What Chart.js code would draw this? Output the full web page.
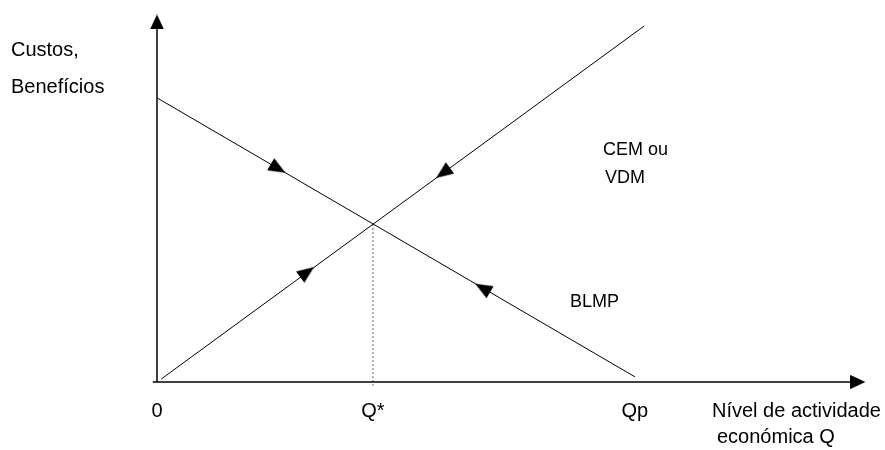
<!DOCTYPE html>
<html>
<head>
    <title>Q*</title>
    <script src="https://cdn.jsdelivr.net/npm/chart.js"></script>
    <style>
        body { margin: 0; background: #fff; }
        #wrap { width: 885px; height: 450px; }
    </style>
</head>
<body>
    <div id="wrap"><canvas id="myChart"></canvas></div>

    <script>
        // valores (escala 0..100 nos dois eixos)
        var tickValues = [0, 30.5, 67.5];
        var tickLabels = ["0", "Q*", "Qp"];

        var blmpX = [0, 67.5];
        var blmpY = [76.8, 1.4];
        var cemX = [0.6, 68.8];
        var cemY = [0.8, 96.2];

        var qStarX = [30.5, 30.5];
        var qStarY = [42.7, -1];

        var blmpArrowX = [17.1, 46.0];
        var blmpArrowY = [57.7, 25.4];
        var cemArrowX = [21.2, 40.4];
        var cemArrowY = [29.7, 56.5];

        var axisX = [-0.6, 99.0];
        var axisY = [0, 97.3];

        function pts(xs, ys) {
            return xs.map(function (x, i) { return { x: x, y: ys[i] }; });
        }

        // seta (triângulo estreito a apontar para cima)
        function makeArrow(w, h) {
            var c = document.createElement("canvas");
            c.width = w;
            c.height = h;
            var g = c.getContext("2d");
            g.fillStyle = "#000";
            g.beginPath();
            g.moveTo(w / 2, 0);
            g.lineTo(w, h);
            g.lineTo(0, h);
            g.closePath();
            g.fill();
            return c;
        }
        var arrowImg = makeArrow(14, 17);
        var axisArrowImg = makeArrow(14, 15);

        var lineStyle = {
            showLine: true,
            pointRadius: 0,
            borderColor: "#000",
            borderWidth: 1,
            clip: false
        };

        function arrowSet(label, data, img, rots) {
            return {
                label: label,
                data: data,
                pointStyle: img,
                pointRadius: 8,
                rotation: function (c) { return rots[c.dataIndex]; },
                backgroundColor: "#000",
                borderColor: "#000",
                borderWidth: 0,
                clip: false
            };
        }

        var labelsPlugin = {
            id: "labels",
            afterDraw: function (chart) {
                var ctx = chart.ctx;
                var xs = chart.scales.x;
                ctx.save();
                ctx.fillStyle = "#000";
                ctx.textBaseline = "alphabetic";

                ctx.font = "20px 'Liberation Sans', Arial, sans-serif";
                ctx.textAlign = "center";
                tickValues.forEach(function (v, i) {
                    ctx.fillText(tickLabels[i], xs.getPixelForValue(v), 417);
                });

                ctx.textAlign = "left";
                ctx.fillText("Custos,", 11, 56);
                ctx.fillText("Benefícios", 11, 93);
                ctx.fillText("Nível de actividade", 712, 417);
                ctx.fillText("económica Q", 717, 443);

                ctx.font = "18px 'Liberation Sans', Arial, sans-serif";
                ctx.fillText("CEM ou", 603, 155);
                ctx.fillText("VDM", 605, 183);
                ctx.fillText("BLMP", 570, 307);
                ctx.restore();
            }
        };

        var ctx = document.getElementById("myChart").getContext("2d");
        new Chart(ctx, {
            type: "scatter",
            data: {
                datasets: [
                    Object.assign({ label: "eixo x", data: pts(axisX, [0, 0]) }, lineStyle, { borderWidth: 1.5 }),
                    Object.assign({ label: "eixo y", data: pts([0, 0], axisY) }, lineStyle, { borderWidth: 1.5 }),
                    Object.assign({ label: "BLMP", data: pts(blmpX, blmpY) }, lineStyle),
                    Object.assign({ label: "CEM ou VDM", data: pts(cemX, cemY) }, lineStyle),
                    Object.assign({ label: "Q*", data: pts(qStarX, qStarY) }, lineStyle, {
                        borderColor: "#666", borderDash: [2, 2]
                    }),
                    arrowSet("setas BLMP", pts(blmpArrowX, blmpArrowY), arrowImg, [120, 300]),
                    arrowSet("setas CEM", pts(cemArrowX, cemArrowY), arrowImg, [54, 234]),
                    arrowSet("setas eixos", [{ x: 99.0, y: 0 }, { x: 0, y: 97.3 }], axisArrowImg, [90, 0])
                ]
            },
            options: {
                responsive: true,
                maintainAspectRatio: false,
                animation: false,
                layout: {
                    padding: { left: 157, right: 20, top: 12, bottom: 68 }
                },
                plugins: {
                    legend: { display: false },
                    tooltip: { enabled: false }
                },
                scales: {
                    x: { type: "linear", min: 0, max: 100, display: false },
                    y: { type: "linear", min: 0, max: 100, display: false }
                }
            },
            plugins: [labelsPlugin]
        });
    </script>
</body>
</html>
